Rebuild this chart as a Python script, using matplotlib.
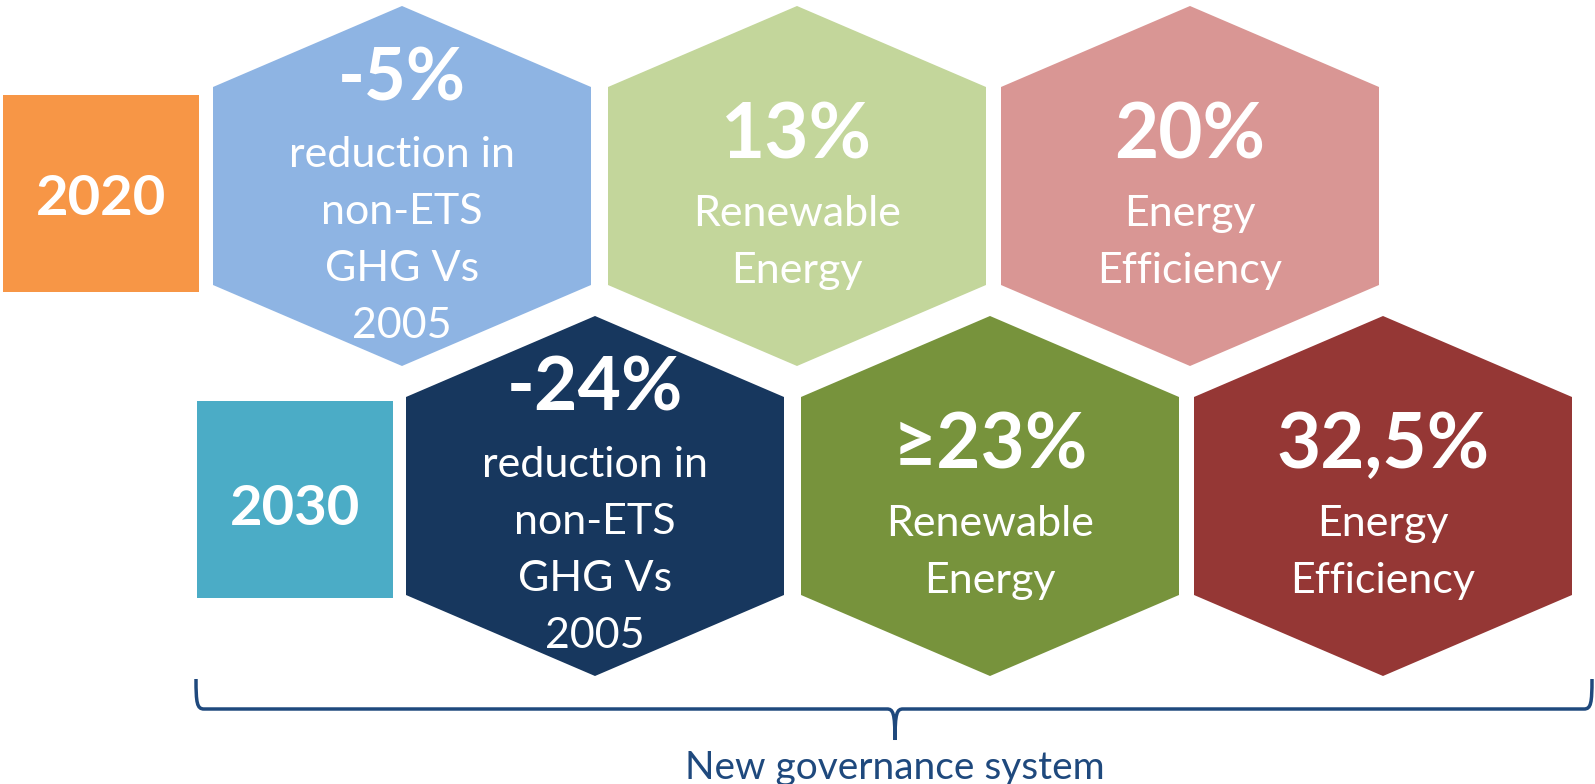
import matplotlib
matplotlib.use("Agg")
import matplotlib.pyplot as plt
from matplotlib.patches import Polygon, Rectangle, PathPatch
from matplotlib.path import Path

plt.rcParams['font.family'] = ['Lato', 'DejaVu Sans']

# data
years = ["2020", "2030"]
year_colors = ["#F79646", "#4BACC6"]

targets_2020 = ["-5%", "13%", "20%"]
targets_2030 = ["-24%", "\u226523%", "32,5%"]
captions = [
    ["reduction in", "non-ETS", "GHG Vs", "2005"],
    ["Renewable", "Energy"],
    ["Energy", "Efficiency"],
]
colors_2020 = ["#8EB4E3", "#C3D69B", "#D99694"]
colors_2030 = ["#17375E", "#77933C", "#953735"]
big_sizes_2020 = [52, 55, 55]
big_sizes_2030 = [54, 55, 55]
footer = "New governance system"
brace_color = "#1F497D"

# layout (pixels)
W, H = 1595, 784
row_cy = [186, 496]
row_cx = [[402, 797, 1190], [595, 990, 1383]]
year_box = [(3, 95, 196, 197), (197, 401, 196, 197)]  # x, y, w, h
HW, HS, HP = 189, 99, 180   # half width, half side, half height to point

fig = plt.figure(figsize=(W / 100, H / 100), dpi=100)
ax = fig.add_axes([0, 0, 1, 1])
ax.set_xlim(0, W)
ax.set_ylim(H, 0)
ax.axis("off")


def hexagon(cx, cy, color):
    pts = [(cx, cy - HP), (cx + HW, cy - HS), (cx + HW, cy + HS),
           (cx, cy + HP), (cx - HW, cy + HS), (cx - HW, cy - HS)]
    ax.add_patch(Polygon(pts, closed=True, facecolor=color, edgecolor="none"))


rows = [(targets_2020, colors_2020, big_sizes_2020),
        (targets_2030, colors_2030, big_sizes_2030)]

for r, (targets, cols, sizes) in enumerate(rows):
    cy = row_cy[r]
    x, y, w, h = year_box[r]
    ax.add_patch(Rectangle((x, y), w, h, facecolor=year_colors[r], edgecolor="none"))
    ax.text(x + w / 2, cy + 29, years[r], color="white", fontsize=40.5,
            fontweight="bold", ha="center", va="baseline")
    for i, (t, c, s) in enumerate(zip(targets, cols, sizes)):
        cx = row_cx[r][i]
        hexagon(cx, cy, c)
        lines = captions[i]
        if len(lines) == 4:
            big_y = cy - 86
            first = cy - 19
        else:
            big_y = cy - 28
            first = cy + 40
        ax.text(cx, big_y, t, color="white", fontsize=s, fontweight="bold",
                ha="center", va="baseline")
        for k, line in enumerate(lines):
            ax.text(cx, first + k * 57, line, color="white", fontsize=31,
                    ha="center", va="baseline")

# brace
xl, xr, xm = 196, 1592, 895
yt, yh, yb = 679, 709, 740
verts = [
    (xl, yt), (xl, yh - 6), (xl + 1, yh), (xl + 8, yh),
    (xm - 8, yh), (xm - 2, yh), (xm, yh + 4), (xm, yb),
    (xm, yh + 4), (xm + 2, yh), (xm + 8, yh),
    (xr - 8, yh), (xr - 1, yh), (xr, yh - 6), (xr, yt),
]
codes = [Path.MOVETO, Path.CURVE4, Path.CURVE4, Path.CURVE4,
         Path.LINETO, Path.CURVE4, Path.CURVE4, Path.CURVE4,
         Path.CURVE4, Path.CURVE4, Path.CURVE4,
         Path.LINETO, Path.CURVE4, Path.CURVE4, Path.CURVE4]
ax.add_patch(PathPatch(Path(verts, codes), facecolor="none",
                       edgecolor=brace_color, linewidth=2.5))

ax.text(xm, 779, footer, color=brace_color, fontsize=28,
        ha="center", va="baseline")

fig.savefig("out.png", dpi=100)
